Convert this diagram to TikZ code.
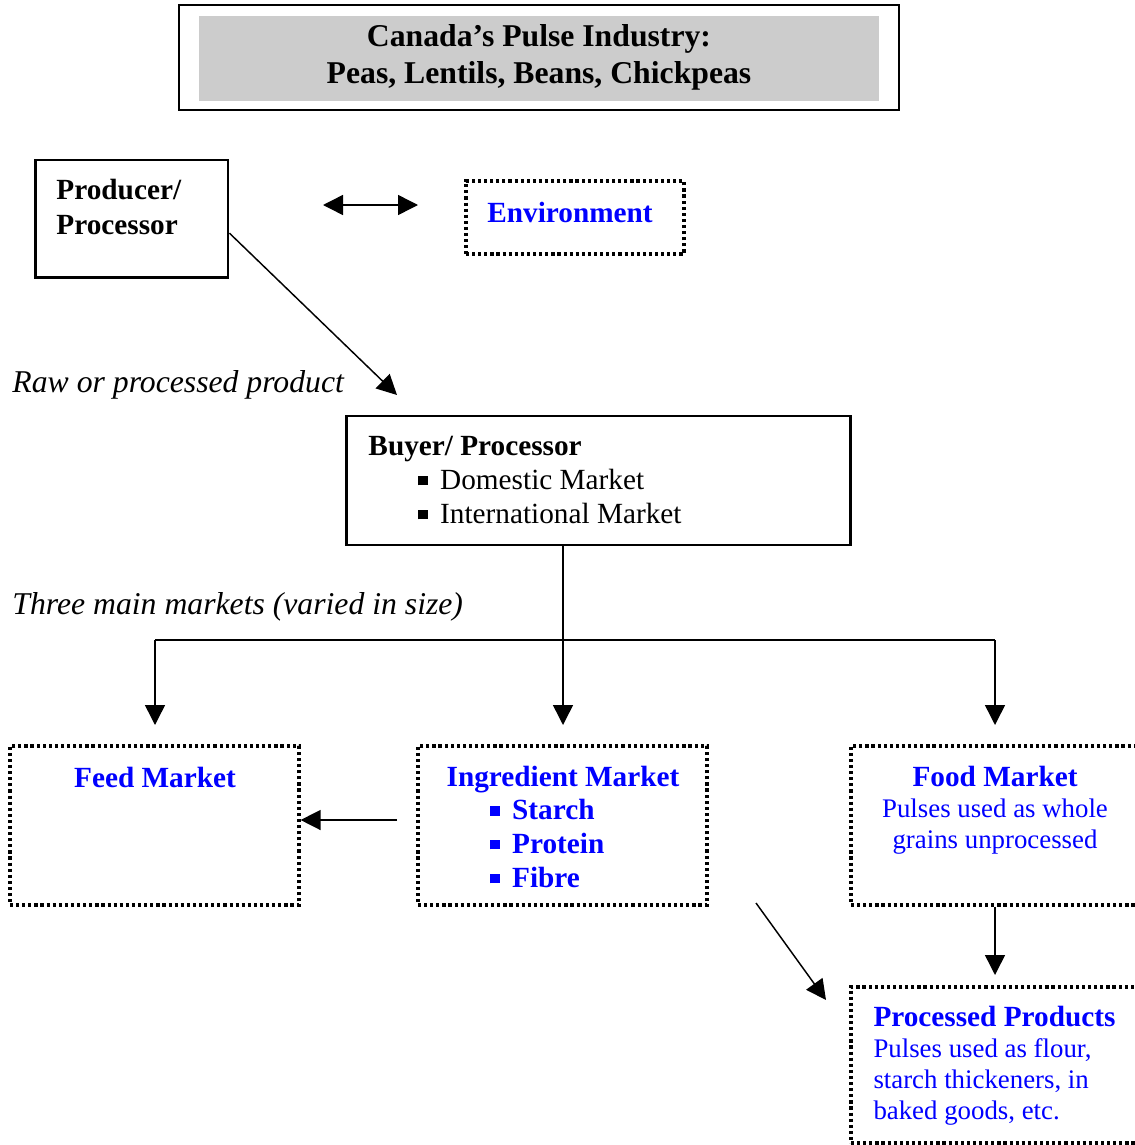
\documentclass[tikz,border=0pt]{standalone}
\usepackage{fontspec}
\setmainfont{Liberation Serif}
\usepackage{xcolor}
\usetikzlibrary{arrows.meta}
\usetikzlibrary{positioning}
\definecolor{mktblue}{rgb}{0,0,1}
\definecolor{titlegray}{rgb}{0.8,0.8,0.8}
\newcommand{\sqbullet}{\rule[0.3ex]{3.8pt}{3.8pt}}

\begin{document}
\begin{tikzpicture}[x=0.41pt,y=-0.41pt,line join=miter,
  plainbox/.style={draw,line width=0.6pt,inner sep=0pt},
  solidbox/.style={draw,line width=1.2pt,inner sep=0pt},
  dotbox/.style={draw,line width=1.3pt,dash pattern=on 1.3pt off 1.2pt,inner sep=0pt},
  txt/.style={inner sep=0pt,font=\fontsize{12}{13.9}\selectfont},
  bluebold/.style={txt,text=mktblue,font=\bfseries\fontsize{12}{13.9}\selectfont},
  slant/.style={txt,anchor=west,font=\itshape\fontsize{13}{15}\selectfont},
  link/.style={line width=0.6pt},
  arrow/.style={link,-{Triangle[length=8.2pt,width=8.2pt]}}]
\useasboundingbox (0,0) rectangle (1134,1145);
% title
\node[plainbox,minimum width=295.2pt,minimum height=43.05pt] (titlebox) at (539,57.5) {};
\fill[titlegray] (199,16) rectangle (879,101);
\node[txt,align=center,font=\bfseries\fontsize{13}{15.2}\selectfont] (title) at (539,57)
  {Canada's Pulse Industry:\\Peas, Lentils, Beans, Chickpeas};
% producer and environment
\node[solidbox,minimum width=79.1pt,minimum height=48pt] (prodbox) at (131.5,218.5) {};
\node[txt,anchor=west,align=left,font=\bfseries\fontsize{12}{14.3}\selectfont] (prodtext) at (56,207)
  {Producer/\\Processor};
\node[dotbox,minimum width=89.4pt,minimum height=29.9pt] (envbox) at (575,217.5) {};
\node[bluebold] (envtext) at (570,212) {Environment};
\coordinate (dleft) at (323,205);
\coordinate (dright) at (418,205);
\draw[link,{Triangle[length=8.2pt,width=8.2pt]}-{Triangle[length=8.2pt,width=8.2pt]}] (dleft) -- (dright);
% raw or processed product
\coordinate (rawtip) at (397,395);
\draw[arrow] ([yshift=-6pt]prodbox.east) -- (rawtip);
\node[slant] (rawlbl) at (12,385) {Raw or processed product};
% buyer
\node[solidbox,minimum width=207pt,minimum height=52.9pt] (buyerbox) at (598.5,480.5) {};
\node[txt,anchor=west,align=left] (buyertext) at (368,480)
  {\textbf{Buyer/ Processor}\\
   \hspace*{20.5pt}\sqbullet\hspace{5.1pt}Domestic Market\\
   \hspace*{20.5pt}\sqbullet\hspace{5.1pt}International Market};
% three markets
\node[slant] (threelbl) at (12,607) {Three main markets (varied in size)};
\coordinate (split) at (563,640);
\coordinate (feedtop) at (155,725);
\coordinate (ingtop) at (563,725);
\coordinate (foodtop) at (995,725);
\draw[arrow] (buyerbox.south -| ingtop) -- (ingtop);
\draw[link] (split -| feedtop) -- (split -| foodtop);
\draw[arrow] (split -| feedtop) -- (feedtop);
\draw[arrow] (split -| foodtop) -- (foodtop);
% markets
\node[dotbox,minimum width=118.5pt,minimum height=65.2pt] (feedbox) at (154.5,825.5) {};
\node[bluebold] (feedtext) at (155,777) {Feed Market};
\node[dotbox,minimum width=118.5pt,minimum height=65.2pt] (ingbox) at (562.5,825.5) {};
\node[bluebold] (ingtext) at (563,780) {Ingredient Market};
\node[bluebold,anchor=west,align=left] (inglist) at (490,843.5)
  {\sqbullet\hspace{5.1pt}Starch\\\sqbullet\hspace{5.1pt}Protein\\\sqbullet\hspace{5.1pt}Fibre};
\coordinate (ingleft) at (397,820);
\draw[arrow] (ingleft) -- (ingleft -| feedbox.east);
\node[dotbox,minimum width=118.5pt,minimum height=65.2pt] (foodbox) at (995.5,825.5) {};
\node[txt,align=center,text=mktblue,font=\fontsize{11}{12.7}\selectfont] (foodtext) at (995,810)
  {{\bfseries\fontsize{12}{13.9}\selectfont Food Market}\\Pulses used as whole\\grains unprocessed};
% processed products
\coordinate (proctop) at (995,975);
\draw[arrow] (foodbox.south -| proctop) -- (proctop);
\node[dotbox,minimum width=118.5pt,minimum height=64pt] (procbox) at (995.5,1065) {};
\node[txt,anchor=west,align=left,text=mktblue,font=\fontsize{11}{12.7}\selectfont] (proctext) at (873,1066)
  {{\bfseries\fontsize{12}{13.9}\selectfont Processed Products}\\Pulses used as flour,\\starch thickeners, in\\baked goods, etc.};
\coordinate (diagfrom) at (756,903);
\coordinate (diagto) at (826,1000);
\draw[arrow] (diagfrom) -- (diagto);
\end{tikzpicture}
\end{document}
